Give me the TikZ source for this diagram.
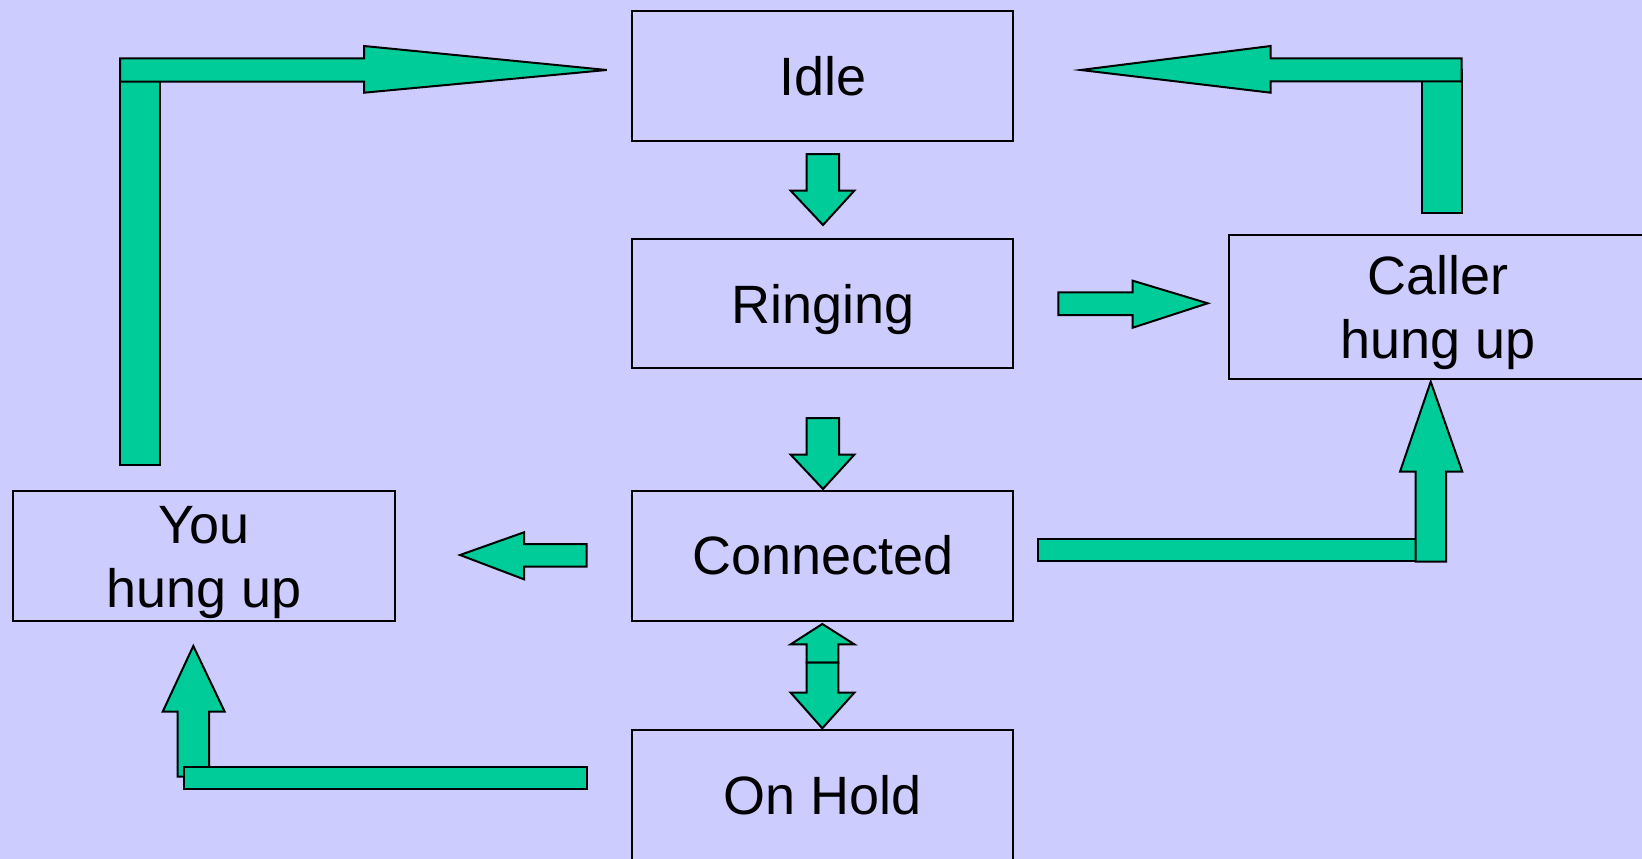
\documentclass[tikz,border=0pt]{standalone}
\usepackage{fontspec}
\setmainfont{Liberation Sans}
\definecolor{bgviolet}{HTML}{CCCCFF}
\definecolor{arrowgreen}{HTML}{00CC99}
\begin{document}
\begin{tikzpicture}[x=1pt,y=-1pt,
  state/.style={draw=black, line width=2pt, rectangle, inner sep=0pt,
    font=\fontsize{54}{64}\selectfont, align=center,
    text height=38.7pt, text depth=0pt},
  twoline/.style={text height=102.7pt, text depth=0pt},
  blockarrow/.style={fill=arrowgreen, draw=black, line width=2pt}]

% page frame and background
\useasboundingbox (0,0) rectangle (1642,859);
\clip (0,0) rectangle (1642,859);
\fill[bgviolet] (0,0) rectangle (1642,859);

% states
\node[state, minimum width=381pt, minimum height=130pt] (idle) at (822.8,75.7) {Idle};
\node[state, minimum width=381pt, minimum height=129pt] (ringing) at (822.8,303.8) {Ringing};
\node[state, minimum width=381pt, minimum height=130pt] (connected) at (822.8,555.6) {Connected};
\node[state, minimum width=381pt, minimum height=130pt] (onhold) at (822.8,795) {On Hold};
\node[state, twoline, minimum width=381.7pt, minimum height=130.3pt] (you) at (204.2,555.8) {You\\hung up};
\node[state, twoline, minimum width=416.7pt, minimum height=144pt] (caller) at (1437.7,307) {Caller\\hung up};

% Idle -> Ringing
\draw[blockarrow] (806.7,154) -- (839,154) -- (839,190.7) -- (854.3,190.7)
  -- (823,225) -- (790.7,190.7) -- (806.7,190.7) -- cycle;

% Ringing -> Connected
\draw[blockarrow] (806.7,418) -- (839,418) -- (839,454.7) -- (854.3,454.7)
  -- (823,489) -- (790.7,454.7) -- (806.7,454.7) -- cycle;

% Ringing -> Caller hung up
\draw[blockarrow] (1058.3,292.3) -- (1132.7,292.3) -- (1132.7,280.7)
  -- (1207.7,303.3) -- (1132.7,327.7) -- (1132.7,315) -- (1058.3,315) -- cycle;

% Connected -> You hung up
\draw[blockarrow] (586.7,544) -- (524,544) -- (524,532.3)
  -- (460,555) -- (524,579.3) -- (524,566.7) -- (586.7,566.7) -- cycle;

% Connected <-> On Hold
\draw[blockarrow] (806.7,662.7) -- (806.7,644.3) -- (790.7,644.3)
  -- (822.3,624) -- (854.3,644.3) -- (838.3,644.3) -- (838.3,662.7) -- cycle;
\draw[blockarrow] (806.7,662.7) -- (838.3,662.7) -- (838.3,692.7) -- (854.3,692.7)
  -- (822.3,728.3) -- (790.7,692.7) -- (806.7,692.7) -- cycle;

% Connected -> Caller hung up
\draw[blockarrow] (1037.7,539) rectangle (1440.7,560.7);
\draw[blockarrow] (1415.7,561.7) -- (1415.7,471.7) -- (1400,471.7)
  -- (1430.7,381.7) -- (1462.3,471.7) -- (1446,471.7) -- (1446,561.7) -- cycle;

% On Hold -> You hung up
\draw[blockarrow] (177.7,776.7) -- (177.7,711.7) -- (162.7,711.7)
  -- (193.3,646) -- (224.7,711.7) -- (209,711.7) -- (209,776.7) -- cycle;
\draw[blockarrow] (184,766.7) rectangle (586.7,789);

% You hung up -> Idle
\draw[blockarrow] (120,70) rectangle (160,465);
\draw[blockarrow] (120,58.3) -- (364,58.3) -- (364,46) -- (606.7,70)
  -- (364,92.7) -- (364,81.7) -- (120,81.7) -- cycle;

% Caller hung up -> Idle
\draw[blockarrow] (1421.7,70) rectangle (1461.7,212.7);
\draw[blockarrow] (1461.7,58.3) -- (1270.7,58.3) -- (1270.7,46) -- (1080.7,70)
  -- (1270.7,92.7) -- (1270.7,81.3) -- (1461.7,81.3) -- cycle;

\end{tikzpicture}
\end{document}
